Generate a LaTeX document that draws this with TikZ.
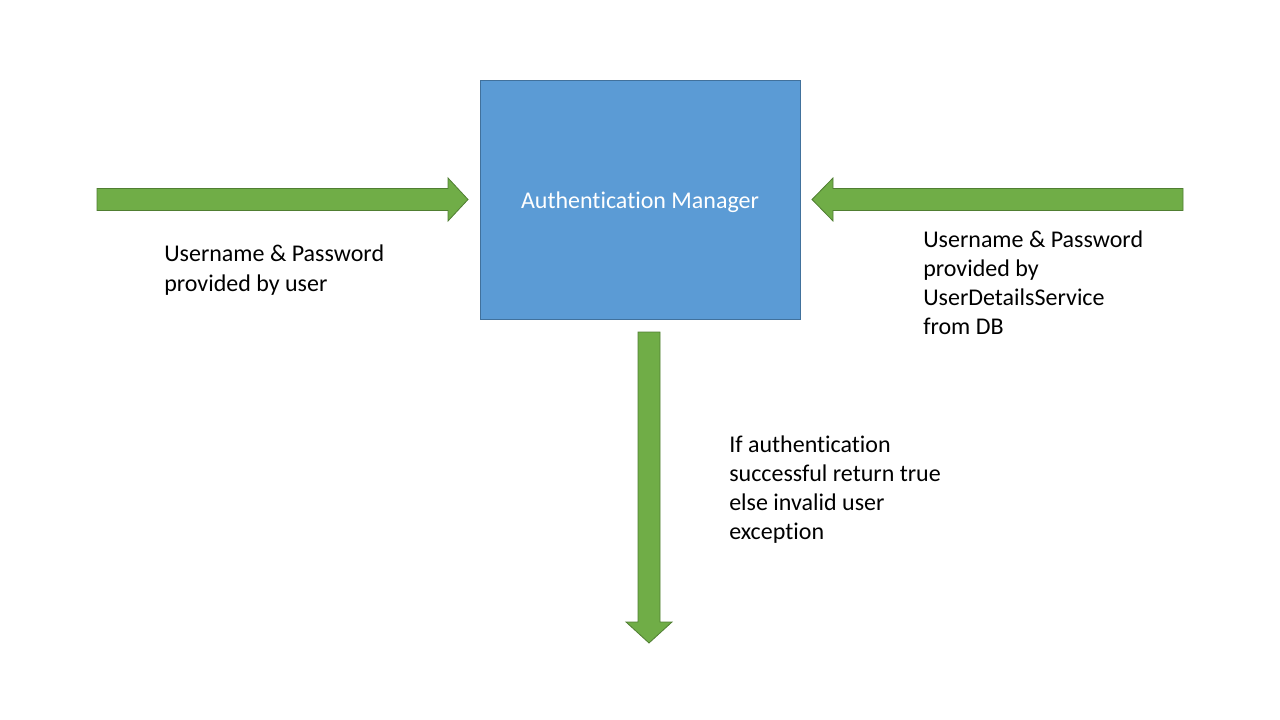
\documentclass[tikz,border=0pt]{standalone}
\usepackage{fontspec}
\setmainfont[Ligatures={NoCommon,NoContextual}]{Carlito}
\definecolor{boxblue}{HTML}{5B9BD5}
\definecolor{boxedge}{HTML}{41719C}
\definecolor{arrgreen}{HTML}{70AD47}
\definecolor{arredge}{HTML}{507E32}
\tikzset{
  blockarrow/.style={fill=arrgreen, draw=arredge, line width=0.6pt, line join=miter},
  mgrbox/.style={rectangle, fill=boxblue, draw=boxedge, line width=0.75pt, minimum width=240pt, minimum height=178.5pt, inner sep=0pt},
  lbl/.style={anchor=base west, align=left, inner sep=0pt, font=\fontsize{18pt}{21.75pt}\selectfont}
}
\begin{document}
\begin{tikzpicture}[x=0.75pt,y=-0.75pt]
\useasboundingbox (0,0) rectangle (1280,720);
% manager box
\node[mgrbox] (mgr) at (640.5,200) {};
\node[anchor=base, inner sep=0pt, text=white, font=\fontsize{18pt}{21.75pt}\selectfont] (mgrtext) at (640,209) {Authentication Manager};
% left arrow
\coordinate (lstart) at (97,199.5);
\coordinate (ltip) at (468,199.5);
\draw[blockarrow] (97,188.5) -- (448,188.5) -- (448,178) -- (ltip) -- (448,221) -- (448,210.5) -- (97,210.5) -- cycle;
% right arrow
\coordinate (rstart) at (1183,199.5);
\coordinate (rtip) at (812,199.5);
\draw[blockarrow] (1183,188.5) -- (833,188.5) -- (833,178) -- (rtip) -- (833,221) -- (833,210.5) -- (1183,210.5) -- cycle;
% down arrow
\coordinate (dstart) at (649,332);
\coordinate (dtip) at (649,643);
\draw[blockarrow] (638,332) -- (660,332) -- (660,622) -- (672,622) -- (dtip) -- (626,622) -- (638,622) -- cycle;
% labels
\node[lbl] (luser) at (164,291) {Username \& Password\\provided by user};
\node[lbl] (ldb) at (923,334) {Username \& Password\\provided by\\UserDetailsService\\from DB};
\node[lbl] (lres) at (729,539) {If authentication\\successful return true\\else invalid user\\exception};
\end{tikzpicture}
\end{document}
